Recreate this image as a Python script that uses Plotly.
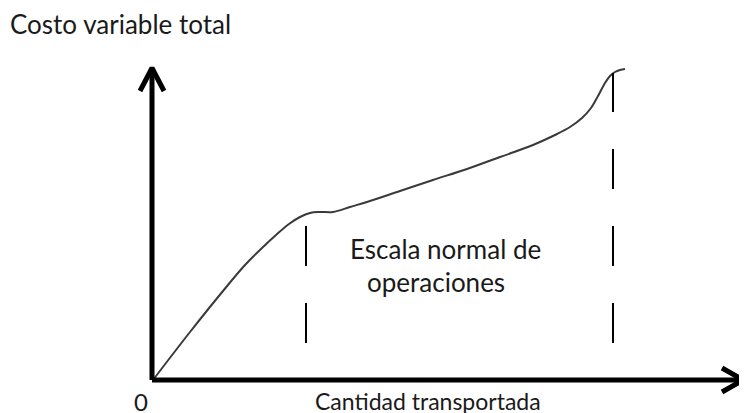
import plotly.graph_objects as go

# Curve data (quantity, total variable cost) in chart units (origin at axis corner)
quantity = [1, 38, 71, 93, 110, 124, 137, 148, 158, 168, 181, 198, 215, 248, 281, 315, 348, 381,
            403, 418, 430, 439, 446, 453, 458, 463, 468, 473]
cost = [0, 48, 89, 115, 132, 145, 156, 163, 167, 168, 168, 173, 178, 189, 200, 211, 223, 235,
        245, 253, 262, 272, 284, 297, 304, 308, 310, 311]

# Boundaries of the normal operating range
range_start_q = 154
range_start_top = 154
range_end_q = 461
range_end_top = 307
dash_bottom = 37

# Axis extents
x_axis_end = 591
y_axis_end = 312

FONT = "Lato"
TXT = "#1a1a1a"

fig = go.Figure()

# curve
fig.add_trace(go.Scatter(x=quantity, y=cost, mode="lines",
                         line=dict(color="#3a3a3a", width=2, shape="spline", smoothing=1.0),
                         hoverinfo="skip", showlegend=False))

# dashed boundaries
for q, top in [(range_start_q, range_start_top), (range_end_q, range_end_top)]:
    fig.add_trace(go.Scatter(x=[q, q], y=[dash_bottom, top], mode="lines",
                             line=dict(color="black", width=2, dash="40px,37px"),
                             hoverinfo="skip", showlegend=False))

# axes with arrowheads
ax_line = dict(color="black", width=5)
fig.add_trace(go.Scatter(x=[0, x_axis_end], y=[0, 0], mode="lines",
                         line=ax_line, hoverinfo="skip", showlegend=False))
fig.add_trace(go.Scatter(x=[0, 0], y=[0, y_axis_end], mode="lines",
                         line=ax_line, hoverinfo="skip", showlegend=False))
fig.add_trace(go.Scatter(x=[x_axis_end - 21, x_axis_end, x_axis_end - 21], y=[12, 0, -12], mode="lines",
                         line=ax_line, hoverinfo="skip", showlegend=False))
fig.add_trace(go.Scatter(x=[-12, 0, 12], y=[y_axis_end - 23, y_axis_end, y_axis_end - 23], mode="lines",
                         line=ax_line, hoverinfo="skip", showlegend=False))

annotations = [
    dict(x=-144, y=356, text="Costo variable total", xanchor="left", size=26),
    dict(x=-11, y=-21, text="0", xanchor="center", size=24),
    dict(x=161, y=-21, text="Cantidad transportada", xanchor="left", size=23),
    dict(x=196, y=131, text="Escala normal de", xanchor="left", size=26),
    dict(x=213, y=98, text="operaciones", xanchor="left", size=26),
]
for a in annotations:
    sz = a.pop("size")
    a.update(xref="x", yref="y", showarrow=False, yanchor="middle",
             font=dict(family=FONT, color=TXT, size=sz))

fig.update_layout(
    width=747, height=413,
    margin=dict(l=0, r=0, t=0, b=0),
    paper_bgcolor="white", plot_bgcolor="white",
    xaxis=dict(range=[-144, 603], visible=False, fixedrange=True),
    yaxis=dict(range=[-41, 372], visible=False, fixedrange=True),
    annotations=annotations,
    showlegend=False,
)

fig.write_html("out.html")
